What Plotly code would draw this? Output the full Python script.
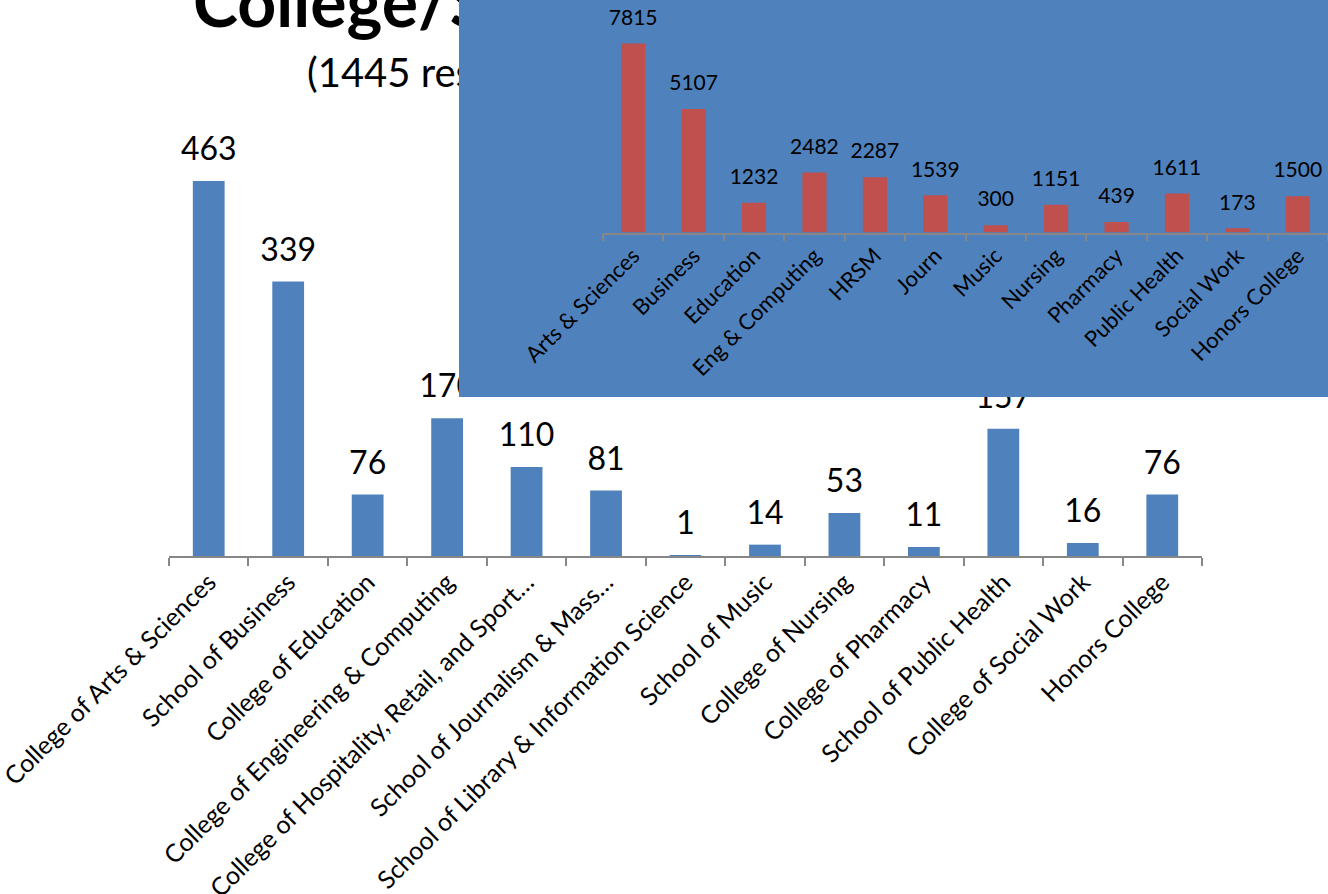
import plotly.graph_objects as go

# ---------------- data ----------------
main_categories = [
    "College of Arts & Sciences",
    "School of Business",
    "College of Education",
    "College of Engineering & Computing",
    "College of Hospitality, Retail, and Sport\u2026",
    "School of Journalism & Mass\u2026",
    "School of Library & Information Science",
    "School of Music",
    "College of Nursing",
    "College of Pharmacy",
    "School of Public Health",
    "College of Social Work",
    "Honors College",
]
main_values = [463, 339, 76, 170, 110, 81, 1, 14, 53, 11, 157, 16, 76]

inset_categories = [
    "Arts & Sciences", "Business", "Education", "Eng & Computing", "HRSM",
    "Journ", "Music", "Nursing", "Pharmacy", "Public Health", "Social Work",
    "Honors College",
]
inset_values = [7815, 5107, 1232, 2482, 2287, 1539, 300, 1151, 439, 1611, 173, 1500]

title_text = "College/School Affiliation"
subtitle_text = "(1445 respondents)"

# ---------------- layout constants ----------------
W, H = 1328, 894
FONT = "Lato, Carlito, Calibri, sans-serif"
BLUE = "#4F81BD"
RED = "#C0504D"
AXIS_GRAY = "#878787"


def px_x(v):
    return v / W


def px_y(v):
    return (H - v) / H


fig = go.Figure()

# main chart (xy)
fig.add_trace(go.Bar(
    x=main_categories, y=main_values,
    marker=dict(color=BLUE, line=dict(width=0)),
    hoverinfo="skip", showlegend=False,
    xaxis="x", yaxis="y",
))
fig.add_trace(go.Scatter(
    x=main_categories, y=main_values,
    mode="markers+text", text=[str(v) for v in main_values],
    textposition="top center",
    textfont=dict(family=FONT, size=32, color="black"),
    marker=dict(size=19, color="rgba(0,0,0,0)"),
    cliponaxis=False, hoverinfo="skip", showlegend=False,
    xaxis="x", yaxis="y",
))

# title layer (x2y2) : pixel coordinate system, under the inset
fig.add_trace(go.Scatter(
    x=[193], y=[27 + 0.25 * 68], mode="text", text=[f"<b>{title_text}</b>"],
    textposition="top right",
    textfont=dict(family=FONT, size=68, color="black"),
    hoverinfo="skip", showlegend=False, xaxis="x2", yaxis="y2",
))
fig.add_trace(go.Scatter(
    x=[307], y=[87 + 0.25 * 40], mode="text", text=[subtitle_text],
    textposition="top right",
    textfont=dict(family=FONT, size=40, color="black"),
    hoverinfo="skip", showlegend=False, xaxis="x2", yaxis="y2",
))

# background helper (x3y3) – holds the blue panel shape
fig.add_trace(go.Scatter(
    x=[None], y=[None], mode="markers", hoverinfo="skip", showlegend=False,
    xaxis="x3", yaxis="y3",
))

# inset chart (x4y4)
fig.add_trace(go.Bar(
    x=inset_categories, y=inset_values,
    marker=dict(color=RED, line=dict(width=0)),
    hoverinfo="skip", showlegend=False,
    xaxis="x4", yaxis="y4",
))
fig.add_trace(go.Scatter(
    x=inset_categories, y=inset_values,
    mode="markers+text", text=[str(v) for v in inset_values],
    textposition="top center",
    textfont=dict(family=FONT, size=21, color="black"),
    marker=dict(size=20, color="rgba(0,0,0,0)"),
    cliponaxis=False, hoverinfo="skip", showlegend=False,
    xaxis="x4", yaxis="y4",
))

hidden = dict(visible=False, showgrid=False, zeroline=False, fixedrange=True,
              automargin=False)

fig.update_layout(
    width=W, height=H,
    margin=dict(l=0, r=0, t=0, b=0, pad=0, autoexpand=False),
    paper_bgcolor="white",
    plot_bgcolor="rgba(0,0,0,0)",
    bargap=0.6,
    font=dict(family=FONT, color="black"),
    showlegend=False,
    xaxis=dict(
        domain=[px_x(169), px_x(1202)], anchor="y",
        type="category", range=[-0.5, len(main_categories) - 0.5],
        tickson="boundaries", automargin=False,
        showline=True, linecolor=AXIS_GRAY, linewidth=1.5,
        ticks="outside", ticklen=8, tickwidth=1.5, tickcolor=AXIS_GRAY,
        tickangle=-45, tickfont=dict(family=FONT, size=25, color="black"),
        showgrid=False, zeroline=False, fixedrange=True,
    ),
    yaxis=dict(
        domain=[px_y(556), px_y(151)], anchor="x", automargin=False,
        range=[0, 500], visible=False, showgrid=False, zeroline=False,
        fixedrange=True,
    ),
    xaxis2=dict(domain=[0, 1], anchor="y2", range=[0, W], **hidden),
    yaxis2=dict(domain=[0, 1], anchor="x2", range=[H, 0], **hidden),
    xaxis3=dict(domain=[px_x(459), 1], anchor="y3", range=[0, 1], **hidden),
    yaxis3=dict(domain=[px_y(397), 1], anchor="x3", range=[0, 1], **hidden),
    xaxis4=dict(
        domain=[px_x(603), 1], anchor="y4",
        type="category", range=[-0.5, len(inset_categories) - 0.5],
        tickson="boundaries", automargin=False,
        showline=True, linecolor=AXIS_GRAY, linewidth=1.5,
        ticks="outside", ticklen=7, tickwidth=1.5, tickcolor=AXIS_GRAY,
        tickangle=-45, tickfont=dict(family=FONT, size=22, color="black"),
        showgrid=False, zeroline=False, fixedrange=True,
    ),
    yaxis4=dict(
        domain=[px_y(232.5), px_y(39)], anchor="x4", automargin=False,
        range=[0, 8000], visible=False, showgrid=False, zeroline=False,
        fixedrange=True,
    ),
    shapes=[dict(
        type="rect", xref="x3", yref="y3", x0=0, x1=1, y0=0, y1=1,
        fillcolor=BLUE, line=dict(width=0), layer="below",
    )],
)

fig.write_html("out.html")
